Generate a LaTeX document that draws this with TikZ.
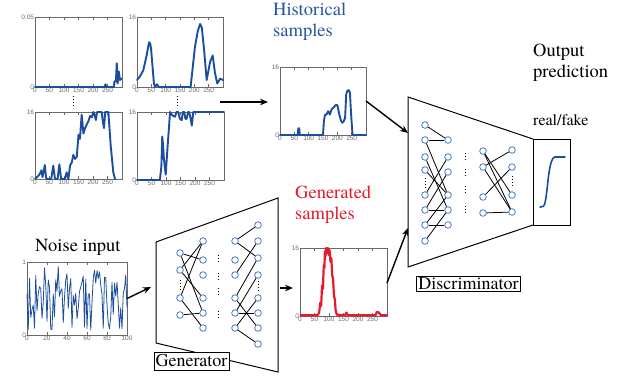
\documentclass[tikz,border=0pt]{standalone}
\usepackage{fontspec}
\newfontfamily\titleserif{TeX Gyre Termes}
\newfontfamily\ticksans{Liberation Sans}
\usetikzlibrary{arrows.meta}
\definecolor{curveblue}{RGB}{28,78,158}
\definecolor{titleblue}{RGB}{40,85,160}
\definecolor{neuronblue}{RGB}{70,120,190}
\definecolor{genred}{RGB}{230,25,45}
\definecolor{axgray}{RGB}{105,105,105}
\newcommand\plotaxes[3]{%
  \foreach \t in {#2} {
    \draw[axline] (\t,0) -- (\t,0.04);
    \draw[axline] (\t,1) -- (\t,0.96);
    \node[ticklab,anchor=north] at (\t,0) {\t};
  }
  \node[ticklab,anchor=east] at (0,0) {0};
  \node[ticklab,anchor=east] at (0,1) {#3};
}
\begin{document}
\begin{tikzpicture}[x=1pt,y=-1pt,
  pframe/.style={draw=axgray, line width=0.5pt, inner sep=0pt, outer sep=0pt, anchor=north west},
  axline/.style={draw=axgray, line width=0.4pt},
  ticklab/.style={font=\ticksans\fontsize{6.5}{7}\selectfont, text=axgray, inner sep=0.8pt},
  curve/.style={draw=curveblue, line width=1.9pt, line join=round, line cap=round},
  neuron/.style={circle, draw=neuronblue, fill=white, line width=0.8pt, inner sep=0pt, minimum size=6.6pt},
  link/.style={line width=0.8pt},
  flow/.style={line width=1.4pt, -{Stealth[length=8pt,width=6.5pt]}},
  big/.style={font=\titleserif\fontsize{18.5}{21}\selectfont, inner sep=0pt, align=left},
  labelbox/.style={draw, line width=0.8pt, fill=white, font=\titleserif\fontsize{18}{20}\selectfont, inner xsep=1.5pt, inner ysep=1.5pt},
  dotline/.style={dotted, line width=1pt},
  panel/.style={draw, line width=1pt, line join=miter}
]
\useasboundingbox (0,0) rectangle (628,384);

% ---------- four historical plots ----------
\node[pframe, minimum width=87pt, minimum height=70pt] (p1) at (35,17) {};
\begin{scope}[shift={(p1.south west)}, x=0.29pt, y=70pt]
  \plotaxes{300}{0,50,...,250}{0.05}
  \draw[curve] (0,0) -- (240,0) -- (243,0.04) -- (246,0) -- (272,0) -- (274,0.08) -- (279,0.08) -- (282,0.34) -- (285,0.05) -- (289,0.22) -- (293,0.1) -- (298,0.12);
\end{scope}

\node[pframe, minimum width=86pt, minimum height=70pt] (p2) at (137,17) {};
\begin{scope}[shift={(p2.south west)}, x=0.2867pt, y=70pt]
  \plotaxes{300}{0,50,...,250}{16}
  \draw[curve] (0,0.1) -- (10,0.15) -- (22,0.24) -- (34,0.46) -- (42,0.64) -- (46,0.62) -- (49,0.55) -- (59,0.05) -- (63,0) -- (70,0.04) -- (75,0) -- (187,0) -- (202,0.57) -- (212,0.8) -- (220,0.9) -- (226,0.85) -- (234,0.53) -- (243,0.1) -- (255,0.36) -- (264,0.45) -- (272,0.2) -- (280,0.05) -- (290,0.12) -- (300,0.1);
\end{scope}

\node[pframe, minimum width=87pt, minimum height=67pt] (p3) at (35,112) {};
\begin{scope}[shift={(p3.south west)}, x=0.29pt, y=67pt]
  \plotaxes{300}{0,50,...,250}{16}
  \draw[curve] (0,0) -- (12,0.05) -- (17,0.08) -- (22,0.13) -- (26,0.03) -- (30,0.12) -- (34,0.21) -- (38,0.02) -- (42,0) -- (56,0) -- (63,0.2) -- (69,0) -- (78,0) -- (84,0.22) -- (90,0) -- (103,0) -- (109,0.1) -- (115,0) -- (121,0.2) -- (127,0.25) -- (132,0.36) -- (138,0.3) -- (144,0.33) -- (150,0.66) -- (155,0.6) -- (161,0.96) -- (167,0.68) -- (172,0.75) -- (178,0.81) -- (184,0.86) -- (190,0.94) -- (196,0.92) -- (201,1) -- (206,0.95) -- (210,0.88) -- (214,1) -- (230,1) -- (234,0.85) -- (238,0.76) -- (242,1) -- (253,1) -- (261,0.5) -- (270,0.1) -- (276,0);
\end{scope}

\node[pframe, minimum width=87pt, minimum height=68pt] (p4) at (137,112) {};
\begin{scope}[shift={(p4.south west)}, x=0.29pt, y=68pt]
  \plotaxes{300}{0,50,...,250}{16}
  \draw[curve] (0,0) -- (79,0) -- (84,0.2) -- (87,0.64) -- (90,0.5) -- (93,0.3) -- (99,0.08) -- (104,0.4) -- (114,1) -- (122,0.95) -- (131,0.93) -- (136,1) -- (142,1) -- (148,0.9) -- (154,0.88) -- (158,1) -- (163,1) -- (167,0.9) -- (171,0.9) -- (176,1) -- (180,1) -- (185,0.9) -- (189,0.8) -- (194,1) -- (300,1);
\end{scope}

\draw[dotline] (73,96) -- (73,106);
\draw[dotline] (177,96) -- (177,106);

% ---------- historical samples ----------
\node[big, text=titleblue, anchor=base west] (histtitle) at (273,36) {Historical\\samples};
\node[pframe, minimum width=86pt, minimum height=68pt] (hist) at (280,67) {};
\begin{scope}[shift={(hist.south west)}, x=0.2867pt, y=68pt]
  \plotaxes{300}{0,50,...,250}{16}
  \draw[curve] (0,0) -- (62,0) -- (64,0.1) -- (67,0.1) -- (69,0) -- (150,0) -- (153,0.2) -- (157,0.3) -- (162,0.3) -- (168,0.35) -- (174,0.3) -- (180,0.38) -- (186,0.4) -- (194,0.44) -- (200,0.44) -- (207,0.3) -- (212,0.22) -- (217,0.18) -- (222,0.2) -- (227,0.25) -- (231,0.6) -- (235,0.65) -- (240,0.66) -- (244,0.62) -- (248,0.3) -- (253,0) -- (300,0);
\end{scope}

\coordinate (a1s) at (220,102);
\draw[flow] (a1s) -- ([xshift=-12pt]a1s -| hist.west);

% ---------- discriminator ----------
\coordinate (dtl) at (408,97);
\coordinate (dtr) at (533,139);
\coordinate (dbr) at (533,225);
\coordinate (dbl) at (408,267);
\draw[panel] (dtr) -- (dtl) -- (dbl) -- (dbr);
\node[draw, line width=1pt, minimum width=37pt, minimum height=86pt, inner sep=0pt, outer sep=0pt, anchor=north west] (outbox) at (533,139) {};
\draw[draw=curveblue, line width=1.6pt, line cap=round] (540,207) -- (543,206.5) .. controls (548,205) and (547,158) .. (555,157) -- (565,157);

\node[labelbox] (dlabel) at (468.5,284) {Discriminator};
\node[big, anchor=base west] (outtitle) at (533,77) {Output\\prediction};
\node[font=\titleserif\fontsize{16}{18}\selectfont, inner sep=0pt, anchor=base west] (rf) at (533,125) {real/fake};

\foreach \y [count=\i] in {125,140,157,170,195,210,225,241} \node[neuron] (da\i) at (425,\y) {};
\foreach \y [count=\i] in {140,157,172,195,210,225} \node[neuron] (db\i) at (448,\y) {};
\foreach \y [count=\i] in {151,167,197,213} \node[neuron] (dc\i) at (483,\y) {};
\foreach \y [count=\i] in {150,167,195,212} \node[neuron] (dd\i) at (512,\y) {};
\foreach \a/\b in {1/1,2/1,2/4,3/5,4/4,5/2,6/3,6/5,7/6,8/5,7/4}
  \draw[link] (da\a) -- (db\b);
\foreach \a/\b in {1/3,1/4,2/1,2/4,3/2,4/4}
  \draw[link] (dc\a) -- (dd\b);
\draw[dotline] (425,178) -- (425,188);
\draw[dotline] (512,176) -- (512,187);
\foreach \ya/\yb in {153/161,169/177,186/194,206/214}
  \draw[dotline] (465,\ya) -- (465,\yb);

\coordinate (din1) at (408,133);
\coordinate (din2) at (408,228);
\draw[flow] (hist.east) -- (din1);

% ---------- noise input ----------
\node[big, anchor=base west] (noisetitle) at (35,251) {Noise input};
\node[pframe, minimum width=100pt, minimum height=73pt] (noise) at (27,262) {};
\begin{scope}[shift={(noise.south west)}, x=1pt, y=73pt]
  \plotaxes{100}{0,20,...,100}{1}
  \pgfmathsetseed{4242}
  \draw[draw=curveblue, line width=0.8pt, line join=round] plot[domain=0:100, samples=81] (\x,{0.07+0.88*rnd});
\end{scope}

% ---------- generator ----------
\coordinate (gtl) at (156,242);
\coordinate (gtr) at (278,198);
\coordinate (gbr) at (278,372);
\coordinate (gbl) at (156,343);
\draw[panel] (gtl) -- (gtr) -- (gbr) -- (gbl) -- cycle;

\foreach \y [count=\i] in {253,270,298,315} \node[neuron] (ga\i) at (180,\y) {};
\foreach \y [count=\i] in {241,260,275,298,313,328} \node[neuron] (gb\i) at (203,\y) {};
\foreach \y [count=\i] in {241,260,275,298,313,328} \node[neuron] (gc\i) at (235,\y) {};
\foreach \y [count=\i] in {225,241,258,275,298,313,328,344} \node[neuron] (gd\i) at (258,\y) {};
\foreach \a/\b in {1/2,1/5,2/1,3/1,2/4,3/6,4/5}
  \draw[link] (ga\a) -- (gb\b);
\foreach \a/\b in {1/1,1/3,3/2,4/3,5/6,5/4,6/5,4/7,6/8}
  \draw[link] (gc\a) -- (gd\b);
\draw[dotline] (180,280) -- (180,290);
\draw[dotline] (258,281) -- (258,292);
\foreach \ya/\yb in {255/262,273/280,288/295,311/318}
  \draw[dotline] (218,\ya) -- (218,\yb);

\node[labelbox, minimum height=18pt] (glabel) at (191.5,361) {Generator};

\coordinate (gin) at (151,287);
\draw[flow] (noise.east) -- (gin);

% ---------- generated samples ----------
\node[big, text=genred, anchor=base west] (gentitle) at (295,219) {Generated\\samples};
\node[pframe, minimum width=87pt, minimum height=68pt] (gplot) at (300,248) {};
\begin{scope}[shift={(gplot.south west)}, x=0.29pt, y=68pt]
  \plotaxes{300}{0,50,...,250}{16}
  \draw[draw=genred, line width=2.2pt, line join=round] (0,0.01) -- (60,0.01) -- (66,0.05) -- (70,0.2) -- (73,0.15) -- (76,0.45) -- (79,0.4) -- (82,0.75) -- (84,0.7) -- (86,0.95) -- (88,0.88) -- (90,1) -- (93,0.93) -- (96,1) -- (99,0.9) -- (102,0.97) -- (105,0.8) -- (108,0.85) -- (111,0.6) -- (114,0.55) -- (117,0.3) -- (120,0.25) -- (123,0.08) -- (127,0.02) -- (155,0.01) -- (160,0.05) -- (165,0.01) -- (260,0.01) -- (265,0.06) -- (272,0.05) -- (280,0.01) -- (300,0.01);
\end{scope}

\coordinate (gout) at (280,288);
\draw[flow] (gout) -- (293,288);
\draw[flow] ([yshift=-1pt]gplot.east) -- (din2);

\end{tikzpicture}
\end{document}
